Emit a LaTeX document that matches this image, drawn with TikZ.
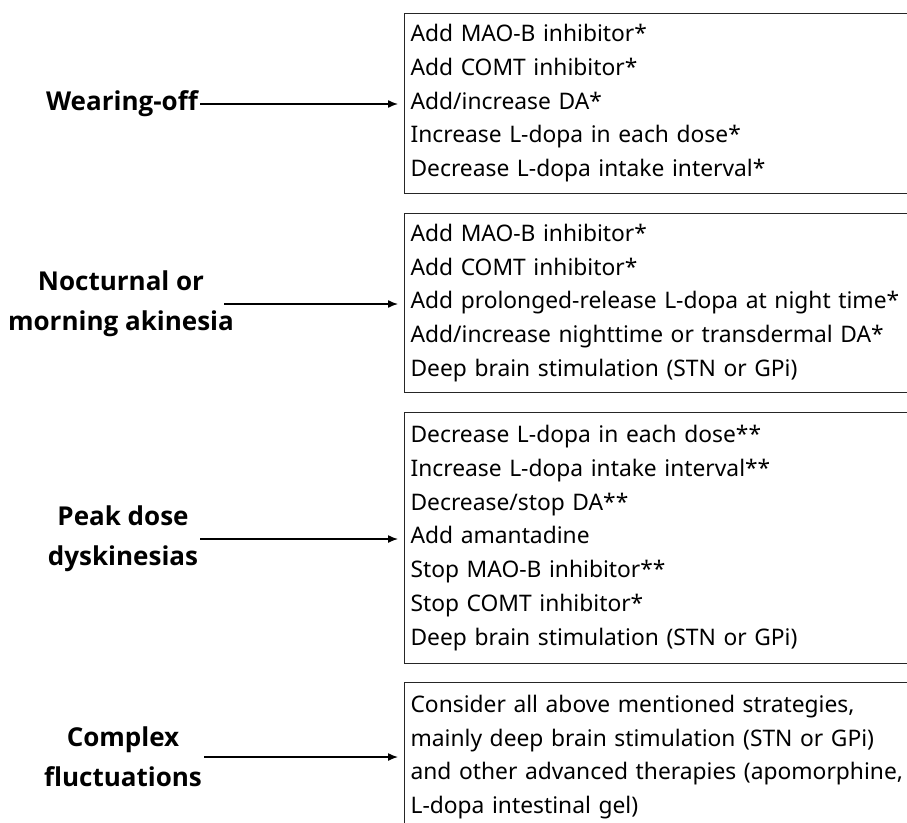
\documentclass[tikz,border=0pt]{standalone}
\usepackage{fontspec}
\setmainfont{Noto Sans}
\newfontfamily\labfont{Open Sans}
\usetikzlibrary{arrows.meta}
\begin{document}
\begin{tikzpicture}[x=1pt,y=-1pt,
  box/.style={draw=black!85, line width=1.1pt, anchor=north west, align=left,
    text width=504pt, inner xsep=6pt, inner ysep=0pt,
    font=\fontsize{22.8}{33.7}\selectfont},
  lab/.style={align=center, inner sep=2pt, font=\labfont\fontsize{26}{40}\selectfont\bfseries},
  arr/.style={-{Latex[length=10pt,width=8pt]}, line width=1.4pt, shorten >=6pt}]
\useasboundingbox (0,0) rectangle (907,822);
\clip (0,0) rectangle (907,822);
\node[box, minimum height=180pt] (b1) at (404,12.7) {Add MAO-B inhibitor*\\Add COMT inhibitor*\\Add/increase DA*\\Increase L-dopa in each dose*\\Decrease L-dopa intake interval*};
\node[box, minimum height=179.5pt] (b2) at (404,212.7) {Add MAO-B inhibitor*\\Add COMT inhibitor*\\Add prolonged-release L-dopa at night time*\\Add/increase nighttime or transdermal DA*\\Deep brain stimulation (STN or GPi)};
\node[box, minimum height=251pt] (b3) at (404,412) {Decrease L-dopa in each dose**\\Increase L-dopa intake interval**\\Decrease/stop DA**\\Add amantadine\\Stop MAO-B inhibitor**\\Stop COMT inhibitor*\\Deep brain stimulation (STN or GPi)};
\node[box, minimum height=149.6pt] (b4) at (404,681.7) {Consider all above mentioned strategies,\\mainly deep brain stimulation (STN or GPi)\\and other advanced therapies (apomorphine,\\L-dopa intestinal gel)};
\node[lab] (l1) at (122,104) {Wearing-off};
\node[lab] (l2) at (121,304) {Nocturnal or\\morning akinesia};
\node[lab] (l3) at (123,539) {Peak dose\\dyskinesias};
\node[lab] (l4) at (123,757) {Complex\\fluctuations};
\draw[arr] (l1.east) -- (l1.east -| b1.west);
\draw[arr] ([xshift=-12pt]l2.east) -- (l2.east -| b2.west);
\draw[arr] (l3.east) -- (l3.east -| b3.west);
\draw[arr] (l4.east) -- (l4.east -| b4.west);
\end{tikzpicture}
\end{document}
